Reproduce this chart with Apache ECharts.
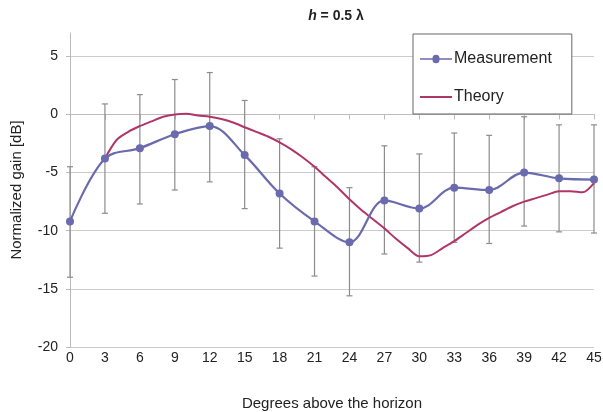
<!DOCTYPE html>
<html>
<head>
<meta charset="utf-8">
<script src="https://cdn.jsdelivr.net/npm/echarts@6/dist/echarts.min.js"></script>
<style>html,body{margin:0;padding:0;background:#fff;}#c{width:603px;height:412px;}</style>
</head>
<body>
<div id="c"></div>
<script>
// Measurement angles and values
const angles = [0,3,6,9,12,15,18,21,24,27,30,33,36,39,42,45];
const measured = [-9.2,-3.8,-2.9,-1.7,-1.0,-3.5,-6.8,-9.2,-11.0,-7.4,-8.1,-6.3,-6.5,-5.0,-5.5,-5.6];
const errUpper = [-4.5,0.9,1.7,3.0,3.6,1.2,-2.1,-4.5,-6.3,-2.7,-3.4,-1.6,-1.8,-0.2,-0.9,-0.9];
const errLower = [-14.0,-8.5,-7.7,-6.5,-5.8,-8.1,-11.5,-13.9,-15.6,-12.0,-12.7,-11.0,-11.1,-9.6,-10.1,-10.2];
// Theory curve
const theoryAngles = [3,4,5,6,7,8,9,10,11,12,13,14,15,16,17,18,19,20,21,22,23,24,25,26,27,28,29,30,31,32,33,34,35,36,37,38,39,40,41,42,43,44,45];
const theory = [-3.8,-2.2,-1.5,-1.0,-0.6,-0.2,0.0,0.05,-0.1,-0.2,-0.4,-0.7,-1.1,-1.5,-1.9,-2.4,-3.0,-3.7,-4.5,-5.4,-6.3,-7.3,-8.2,-9.0,-9.8,-10.7,-11.5,-12.2,-12.1,-11.5,-10.9,-10.2,-9.5,-8.9,-8.4,-7.9,-7.5,-7.2,-6.9,-6.6,-6.6,-6.7,-5.9];
const xTicks = {min:0, max:45, step:3};
const yTicks = {min:-20, max:7, step:5};

const chart = echarts.init(document.getElementById('c'));
const font = 'Liberation Sans, Arial, sans-serif';
const measData = angles.map((a,i)=>[a, measured[i]]);
const errData = angles.map((a,i)=>[a, errLower[i], errUpper[i]]);
const theoryData = theoryAngles.map((a,i)=>[a, theory[i]]);
const measColor = '#6a6aae';
const theoColor = '#b03668';

chart.setOption({
  animation:false,
  backgroundColor:'#fff',
  title:{
    text:'{i|h}{b| = 0.5 λ}',
    left:331, top:4, textAlign:'center',
    textStyle:{rich:{
      i:{fontStyle:'italic', fontWeight:'bold', fontSize:14, fontFamily:font, color:'#222'},
      b:{fontWeight:'bold', fontSize:14, fontFamily:font, color:'#222'}
    }}
  },
  legend:{
    orient:'vertical', left:413, top:34, width:156,
    padding:[17,20,9,7],
    itemGap:22, itemWidth:32, itemHeight:14,
    backgroundColor:'#fff', borderColor:'#666', borderWidth:1,
    textStyle:{fontSize:16, fontFamily:font, color:'#222', padding:[0,0,0,-3]},
    data:[
      {name:'Measurement', icon:'path://M0,3.2H12.5A3.5,3.5,0,0,1,19.5,3.2H32V4.8H19.5A3.5,3.5,0,0,1,12.5,4.8H0Z', itemStyle:{color:measColor}},
      {name:'Theory', icon:'path://M0,0H32V2H0Z', itemStyle:{color:theoColor}}
    ]
  },
  grid:{left:70, right:9, top:33, bottom:65, containLabel:false, outerBoundsMode:'none'},
  xAxis:{
    type:'value', min:xTicks.min, max:xTicks.max, interval:xTicks.step,
    name:'Degrees above the horizon', nameLocation:'middle', nameGap:49,
    nameTextStyle:{fontSize:15, fontFamily:font, color:'#222'},
    axisLine:{lineStyle:{color:'#bbb'}},
    axisTick:{show:true, length:5, lineStyle:{color:'#bbb'}},
    axisLabel:{fontSize:14, fontFamily:font, color:'#222', margin:4},
    splitLine:{show:false}
  },
  yAxis:{
    type:'value', min:yTicks.min, max:yTicks.max, interval:yTicks.step,
    name:'Normalized gain [dB]', nameLocation:'middle', nameGap:46,
    nameTextStyle:{fontSize:15, fontFamily:font, color:'#222'},
    axisLine:{show:true, lineStyle:{color:'#bbb'}},
    axisTick:{show:true, length:4, lineStyle:{color:'#bbb'}},
    axisLabel:{fontSize:14, fontFamily:font, color:'#222', margin:12, showMaxLabel:false},
    splitLine:{show:true, showMaxLine:false, lineStyle:{color:'#ccc'}}
  },
  series:[
    {
      name:'Errors', type:'custom', z:1,
      data:errData,
      renderItem:function(params, api){
        const x = api.value(0);
        const lo = api.coord([x, api.value(1)]);
        const hi = api.coord([x, api.value(2)]);
        const cap = 3;
        const st = {stroke:'#8c8c8c', lineWidth:1.2};
        return {type:'group', children:[
          {type:'line', shape:{x1:lo[0], y1:lo[1], x2:hi[0], y2:hi[1]}, style:st},
          {type:'line', shape:{x1:lo[0]-cap, y1:lo[1], x2:lo[0]+cap, y2:lo[1]}, style:st},
          {type:'line', shape:{x1:hi[0]-cap, y1:hi[1], x2:hi[0]+cap, y2:hi[1]}, style:st}
        ]};
      },
      silent:true
    },
    {
      name:'Theory', type:'line', data:theoryData, smooth:0.3,
      showSymbol:false, symbol:'none', z:2,
      lineStyle:{color:theoColor, width:2},
      itemStyle:{color:theoColor}
    },
    {
      name:'Measurement', type:'line', data:measData, smooth:0.35,
      symbol:'circle', symbolSize:8, z:3,
      lineStyle:{color:measColor, width:2.2},
      itemStyle:{color:measColor}
    }
  ]
});
</script>
</body>
</html>
